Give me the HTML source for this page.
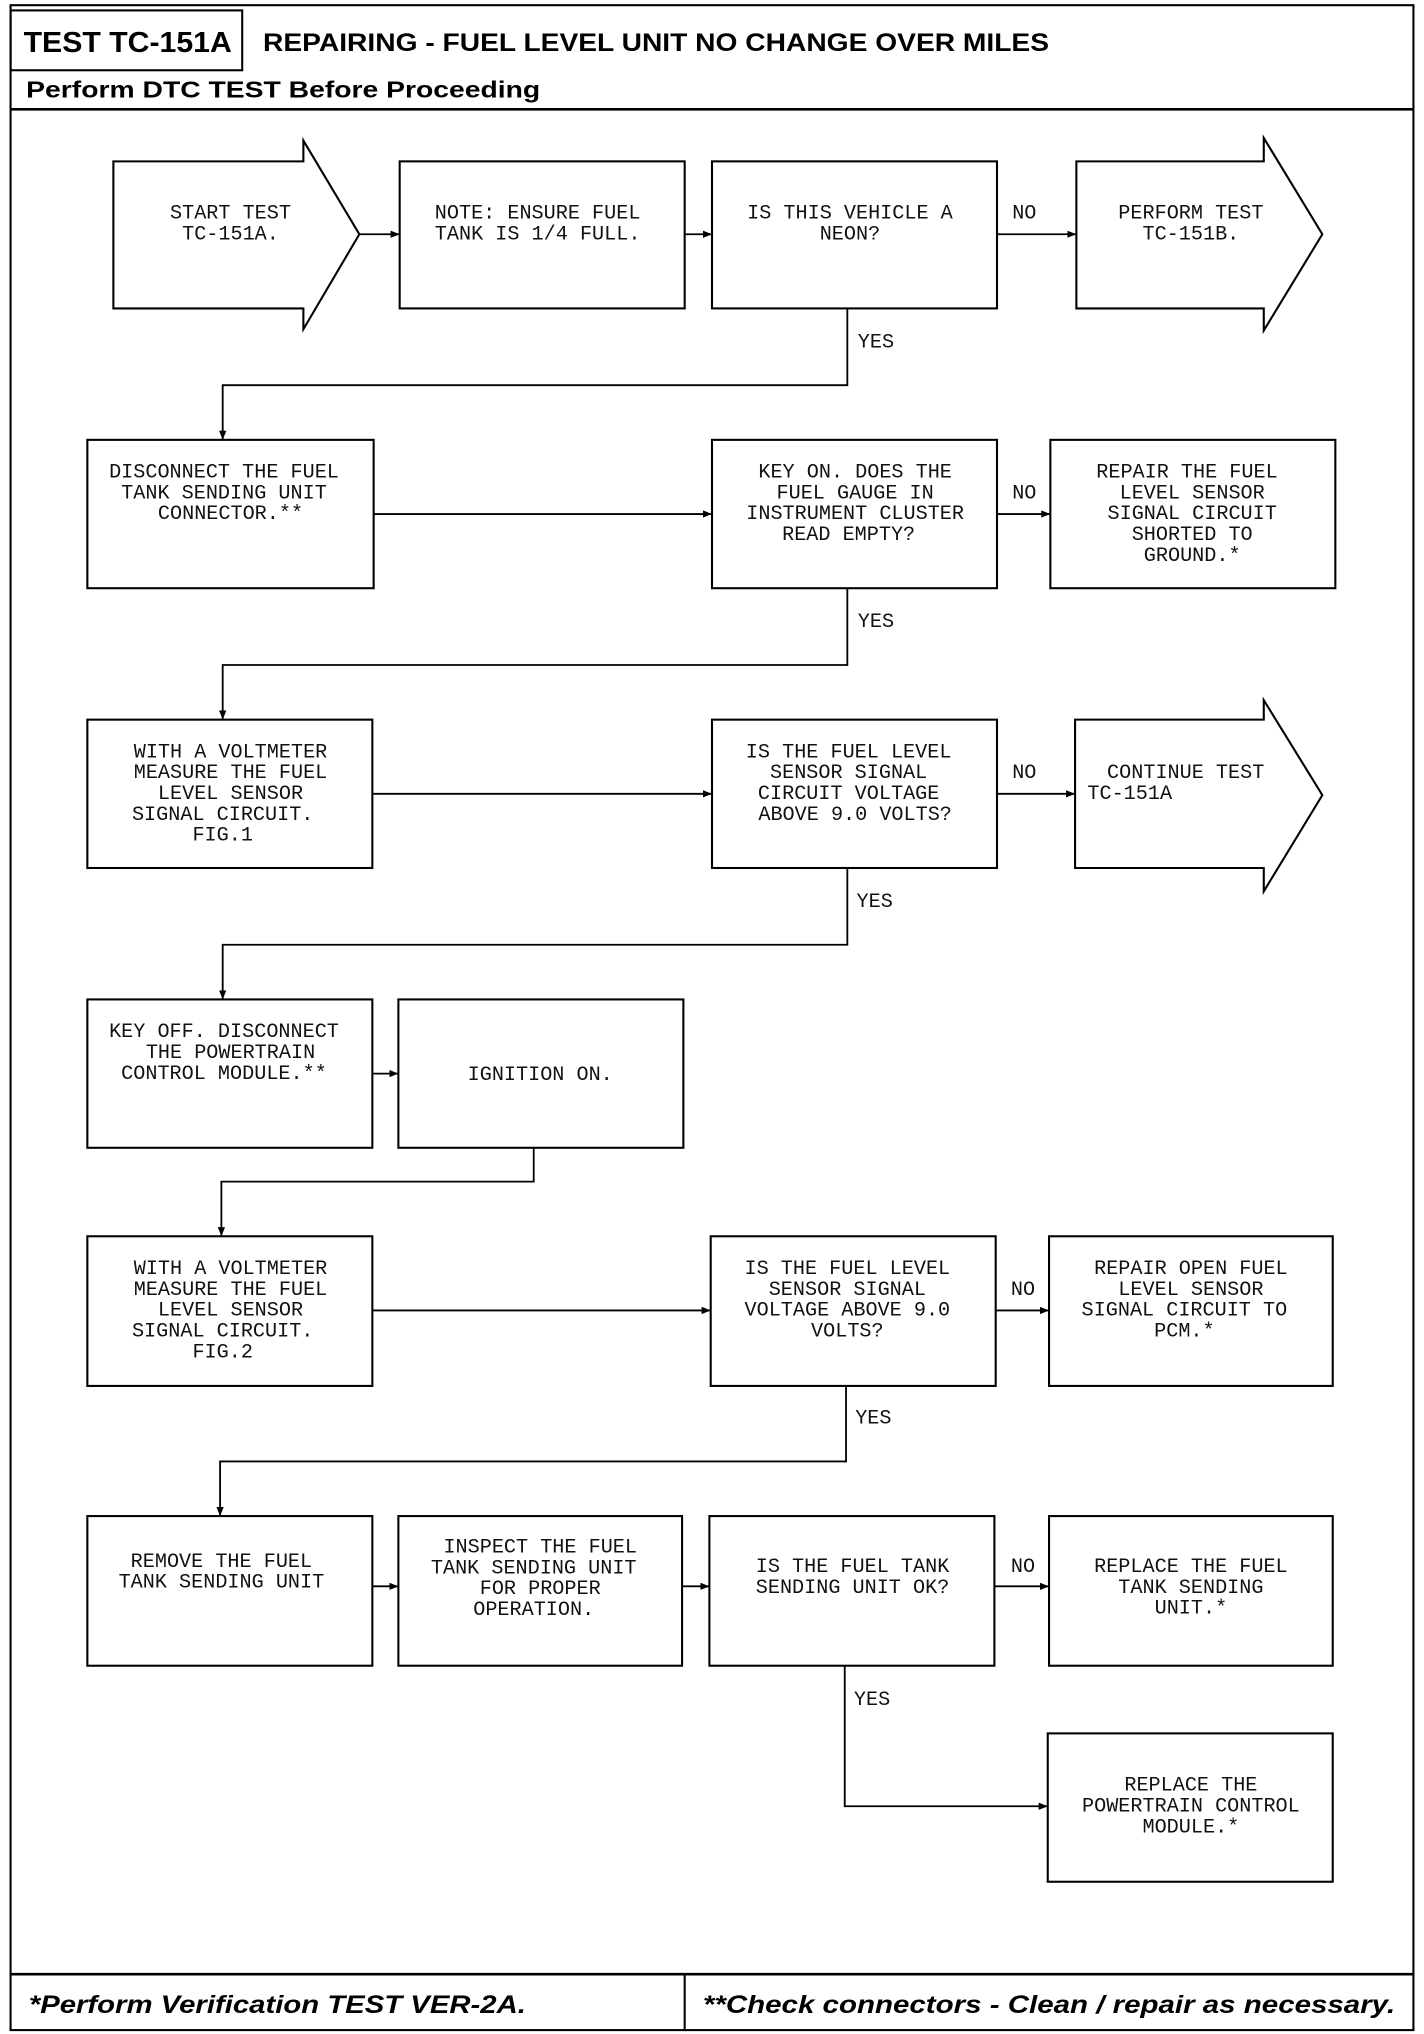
<!DOCTYPE html>
<html><head><meta charset="utf-8"><style>
html,body{margin:0;padding:0;background:#fff;}
svg{display:block;}
.m{font-family:"Liberation Mono",monospace;font-size:15.5px;fill:#111;}
.h{font-family:"Liberation Sans",sans-serif;font-weight:bold;fill:#000;}
</style></head><body>
<svg width="1424" height="2034" viewBox="0 0 1094 1563" xmlns="http://www.w3.org/2000/svg">
<defs><marker id="a" viewBox="0 0 10 10" refX="10" refY="5" markerWidth="7" markerHeight="7" orient="auto" markerUnits="userSpaceOnUse"><path d="M0,1 L10,5 L0,9 z" fill="#000"/></marker></defs>
<g fill="none" stroke="#000" stroke-width="1.6">
<rect x="8" y="4" width="1078" height="1556"/>
<rect x="8" y="8" width="178" height="46"/>
<line x1="8" y1="84" x2="1086" y2="84" stroke-width="2"/>
<line x1="8" y1="1517" x2="1086" y2="1517" stroke-width="2"/>
<line x1="526" y1="1517" x2="526" y2="1560"/>
<!-- row1 -->
<path d="M87,124 H233 V108 L276,180 L233,253 V237 H87 Z"/>
<rect x="307" y="124" width="219" height="113"/>
<rect x="547" y="124" width="219" height="113"/>
<path d="M827,124 H971 V106 L1016,180 L971,254 V237 H827 Z"/>
<!-- row2 -->
<rect x="67" y="338" width="220" height="114"/>
<rect x="547" y="338" width="219" height="114"/>
<rect x="807" y="338" width="219" height="114"/>
<!-- row3 -->
<rect x="67" y="553" width="219" height="114"/>
<rect x="547" y="553" width="219" height="114"/>
<path d="M826,553 H971 V538 L1016,611 L971,685 V667 H826 Z"/>
<!-- row4 -->
<rect x="67" y="768" width="219" height="114"/>
<rect x="306" y="768" width="219" height="114"/>
<!-- row5 -->
<rect x="67" y="950" width="219" height="115"/>
<rect x="546" y="950" width="219" height="115"/>
<rect x="806" y="950" width="218" height="115"/>
<!-- row6 -->
<rect x="67" y="1165" width="219" height="115"/>
<rect x="306" y="1165" width="218" height="115"/>
<rect x="545" y="1165" width="219" height="115"/>
<rect x="806" y="1165" width="218" height="115"/>
<rect x="805" y="1332" width="219" height="114"/>
</g>
<g fill="none" stroke="#000" stroke-width="1.4" marker-end="url(#a)">
<line x1="276" y1="180" x2="307" y2="180"/>
<line x1="526" y1="180" x2="547" y2="180"/>
<line x1="766" y1="180" x2="827" y2="180"/>
<path d="M651,237 V296 H171 V338"/>
<line x1="287" y1="395" x2="547" y2="395"/>
<line x1="766" y1="395" x2="807" y2="395"/>
<path d="M651,452 V511 H171 V553"/>
<line x1="286" y1="610" x2="547" y2="610"/>
<line x1="766" y1="610" x2="826" y2="610"/>
<path d="M651,667 V726 H171 V768"/>
<line x1="286" y1="825" x2="306" y2="825"/>
<path d="M410,882 V908 H170 V950"/>
<line x1="286" y1="1007" x2="546" y2="1007"/>
<line x1="765" y1="1007" x2="806" y2="1007"/>
<path d="M650,1065 V1123 H169 V1165"/>
<line x1="286" y1="1219" x2="306" y2="1219"/>
<line x1="524" y1="1219" x2="545" y2="1219"/>
<line x1="764" y1="1219" x2="806" y2="1219"/>
<path d="M649,1280 V1388 H805"/>
</g>
<text class="h" x="18" y="40" font-size="22" textLength="160" lengthAdjust="spacingAndGlyphs">TEST TC-151A</text>
<text class="h" x="202" y="39" font-size="19" textLength="604" lengthAdjust="spacingAndGlyphs">REPAIRING - FUEL LEVEL UNIT NO CHANGE OVER MILES</text>
<text class="h" x="20" y="75" font-size="18" textLength="395" lengthAdjust="spacingAndGlyphs">Perform DTC TEST Before Proceeding</text>
<text class="h" x="22" y="1547" font-size="19" font-style="italic" textLength="382" lengthAdjust="spacingAndGlyphs">*Perform Verification TEST VER-2A.</text>
<text class="h" x="540" y="1547" font-size="19" font-style="italic" textLength="532" lengthAdjust="spacingAndGlyphs">**Check connectors - Clean / repair as necessary.</text>
<g class="m" text-anchor="middle">
<text x="177" y="168">START TEST</text><text x="177" y="184">TC-151A.</text>
<text x="413" y="168">NOTE: ENSURE FUEL</text><text x="413" y="184">TANK IS 1/4 FULL.</text>
<text x="653" y="168">IS THIS VEHICLE A</text><text x="653" y="184">NEON?</text>
<text x="787" y="168">NO</text><text x="673" y="267">YES</text>
<text x="915" y="168">PERFORM TEST</text><text x="915" y="184">TC-151B.</text>
<text x="172" y="367">DISCONNECT THE FUEL</text><text x="172" y="383">TANK SENDING UNIT</text><text x="177" y="399">CONNECTOR.**</text>
<text x="657" y="367">KEY ON. DOES THE</text><text x="657" y="383">FUEL GAUGE IN</text><text x="657" y="399">INSTRUMENT CLUSTER</text><text x="652" y="415">READ EMPTY?</text>
<text x="787" y="383">NO</text><text x="673" y="482">YES</text>
<text x="912" y="367">REPAIR THE FUEL</text><text x="916" y="383">LEVEL SENSOR</text><text x="916" y="399">SIGNAL CIRCUIT</text><text x="916" y="415">SHORTED TO</text><text x="916" y="431">GROUND.*</text>
<text x="177" y="582">WITH A VOLTMETER</text><text x="177" y="598">MEASURE THE FUEL</text><text x="177" y="614">LEVEL SENSOR</text><text x="171" y="630">SIGNAL CIRCUIT.</text><text x="171" y="646">FIG.1</text>
<text x="652" y="582">IS THE FUEL LEVEL</text><text x="652" y="598">SENSOR SIGNAL</text><text x="652" y="614">CIRCUIT VOLTAGE</text><text x="657" y="630">ABOVE 9.0 VOLTS?</text>
<text x="787" y="598">NO</text><text x="672" y="697">YES</text>
<text x="911" y="598">CONTINUE TEST</text><text x="868" y="614">TC-151A</text>
<text x="172" y="797">KEY OFF. DISCONNECT</text><text x="177" y="813">THE POWERTRAIN</text><text x="172" y="829">CONTROL MODULE.**</text>
<text x="415" y="830">IGNITION ON.</text>
<text x="177" y="979">WITH A VOLTMETER</text><text x="177" y="995">MEASURE THE FUEL</text><text x="177" y="1011">LEVEL SENSOR</text><text x="171" y="1027">SIGNAL CIRCUIT.</text><text x="171" y="1043">FIG.2</text>
<text x="651" y="979">IS THE FUEL LEVEL</text><text x="651" y="995">SENSOR SIGNAL</text><text x="651" y="1011">VOLTAGE ABOVE 9.0</text><text x="651" y="1027">VOLTS?</text>
<text x="786" y="995">NO</text><text x="671" y="1094">YES</text>
<text x="915" y="979">REPAIR OPEN FUEL</text><text x="915" y="995">LEVEL SENSOR</text><text x="910" y="1011">SIGNAL CIRCUIT TO</text><text x="910" y="1027">PCM.*</text>
<text x="170" y="1204">REMOVE THE FUEL</text><text x="170" y="1220">TANK SENDING UNIT</text>
<text x="415" y="1193">INSPECT THE FUEL</text><text x="410" y="1209">TANK SENDING UNIT</text><text x="415" y="1225">FOR PROPER</text><text x="410" y="1241">OPERATION.</text>
<text x="655" y="1208">IS THE FUEL TANK</text><text x="655" y="1224">SENDING UNIT OK?</text>
<text x="786" y="1208">NO</text><text x="670" y="1310">YES</text>
<text x="915" y="1208">REPLACE THE FUEL</text><text x="915" y="1224">TANK SENDING</text><text x="915" y="1240">UNIT.*</text>
<text x="915" y="1376">REPLACE THE</text><text x="915" y="1392">POWERTRAIN CONTROL</text><text x="915" y="1408">MODULE.*</text>
</g>
</svg>
</body></html>
